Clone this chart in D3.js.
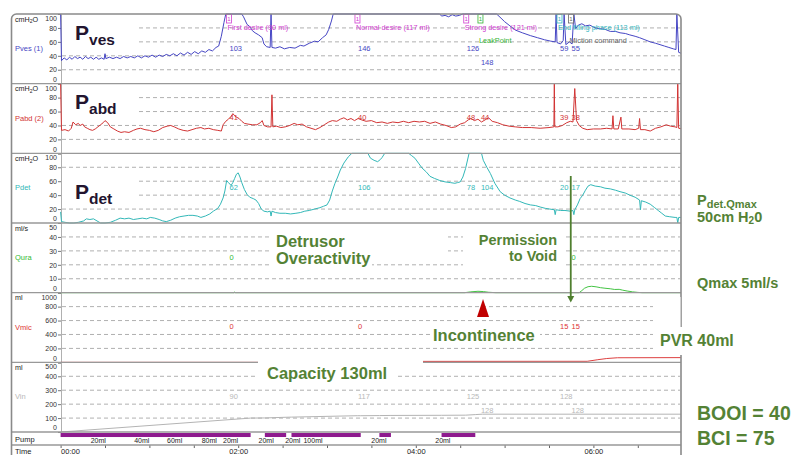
<!DOCTYPE html>
<html>
<head>
<meta charset="utf-8">
<script src="https://cdn.jsdelivr.net/npm/d3@7"></script>
<style>
body { margin: 0; background: #fff; }
svg { display: block; font-family: "Liberation Sans", Arial, sans-serif; }
</style>
</head>
<body>
<div id="chart"></div>
<script>
// channels, top to bottom
var channels = ["Pves (1)", "Pabd (2)", "Pdet", "Qura", "Vmic", "Vin"];
var units = ["cmH2O", "cmH2O", "cmH2O", "ml/s", "ml", "ml"];
var pressTicks = [0, 20, 40, 60, 80, 100];
var flowTicks = [0, 10, 20, 30, 40, 50];
var vmicTicks = [0, 200, 400, 600, 800, 1000];
var vinTicks = [0, 100, 200, 300, 400, 500];

// traces, [minutes, value]
var pvesData = [[0,100],[0.01,33],[0.04,37],[0.07,34],[0.10,38],[0.13,35],[0.16,39],[0.19,36],[0.22,38],[0.25,35],[0.28,39],[0.31,36],[0.34,38],[0.37,35],[0.40,38],[0.43,35],[0.46,37],[0.49,35],[0.50,43],[0.51,36],[0.55,38],[0.59,36],[0.63,38],[0.67,36],[0.71,39],[0.75,37],[0.79,39],[0.83,37],[0.87,40],[0.91,37],[0.95,40],[0.99,38],[1.03,41],[1.07,38],[1.11,41],[1.15,39],[1.19,42],[1.23,40],[1.27,43],[1.31,40],[1.35,44],[1.39,41],[1.43,45],[1.47,42],[1.51,46],[1.55,43],[1.59,47],[1.63,45],[1.67,49],[1.71,47],[1.75,52],[1.78,54],[1.81,68],[1.84,88],[1.86,104],[2.04,104],[2.06,96],[2.10,85],[2.13,82],[2.16,76],[2.19,73],[2.23,70],[2.27,66],[2.29,57],[2.32,53],[2.36,52],[2.37,104],[2.38,52],[2.42,51],[2.47,53],[2.52,50],[2.58,52],[2.64,51],[2.70,55],[2.74,54],[2.80,58],[2.86,61],[2.90,60],[2.95,66],[2.99,70],[3.02,78],[3.05,90],[3.07,104],[4.27,104],[4.29,97],[4.33,98],[4.37,96],[4.41,99],[4.45,97],[4.49,98],[4.53,100],[4.55,104],[4.91,104],[4.96,94],[5.00,89],[5.06,83],[5.12,77],[5.20,73],[5.29,69],[5.37,66],[5.45,63],[5.52,61],[5.57,60],[5.58,104],[5.59,59],[5.63,57],[5.66,62],[5.67,104],[5.69,56],[5.73,60],[5.76,57],[5.78,104],[5.80,79],[5.83,84],[5.87,86],[5.91,83],[5.96,84],[6.02,80],[6.07,79],[6.13,78],[6.19,75],[6.25,75],[6.30,73],[6.36,72],[6.41,70],[6.47,68],[6.52,66],[6.58,63],[6.64,60],[6.70,58],[6.75,56],[6.80,54],[6.85,52],[6.90,50],[6.93,49],[6.94,104],[6.96,45],[7.00,43]];
var pabdData = [[0,100],[0.01,33],[0.05,34],[0.09,32],[0.12,36],[0.14,45],[0.17,41],[0.20,43],[0.22,40],[0.25,42],[0.27,38],[0.30,36],[0.33,34],[0.36,33],[0.39,35],[0.42,38],[0.45,41],[0.48,44],[0.50,47],[0.53,44],[0.56,38],[0.60,35],[0.64,32],[0.68,30],[0.72,31],[0.77,30],[0.82,33],[0.86,35],[0.90,36],[0.95,34],[1.00,33],[1.05,31],[1.10,33],[1.15,37],[1.20,39],[1.24,40],[1.28,38],[1.33,35],[1.38,33],[1.43,32],[1.48,34],[1.53,36],[1.58,37],[1.62,35],[1.67,36],[1.72,34],[1.77,33],[1.81,32],[1.83,41],[1.86,46],[1.89,49],[1.92,53],[1.94,57],[1.96,54],[1.98,52],[2.01,50],[2.04,46],[2.07,43],[2.11,42],[2.16,41],[2.21,41],[2.25,44],[2.27,47],[2.29,40],[2.33,38],[2.37,38],[2.38,84],[2.39,38],[2.43,39],[2.48,37],[2.53,38],[2.58,40],[2.63,43],[2.67,41],[2.72,42],[2.77,38],[2.82,36],[2.87,34],[2.92,37],[2.97,41],[3.02,45],[3.06,47],[3.11,46],[3.15,49],[3.19,51],[3.23,48],[3.27,50],[3.31,47],[3.35,50],[3.39,48],[3.44,46],[3.50,47],[3.56,44],[3.62,45],[3.68,43],[3.74,45],[3.80,44],[3.86,46],[3.92,44],[3.98,46],[4.04,45],[4.10,46],[4.16,43],[4.22,45],[4.28,42],[4.34,40],[4.40,37],[4.45,38],[4.50,42],[4.55,44],[4.59,48],[4.62,50],[4.66,47],[4.70,49],[4.74,45],[4.78,48],[4.82,51],[4.86,46],[4.92,44],[4.98,41],[5.05,39],[5.12,38],[5.20,37],[5.30,37],[5.40,36],[5.50,37],[5.555,38],[5.56,100],[5.565,38],[5.60,38],[5.65,40],[5.70,44],[5.74,46],[5.77,45],[5.79,93],[5.81,47],[5.84,40],[5.88,36],[5.93,34],[6.00,35],[6.08,35],[6.15,36],[6.21,35],[6.22,54],[6.23,35],[6.28,35],[6.31,52],[6.32,35],[6.40,35],[6.47,34],[6.51,36],[6.52,50],[6.53,34],[6.58,34],[6.64,32],[6.70,36],[6.76,38],[6.82,41],[6.87,39],[6.92,38],[6.94,37],[6.95,100],[6.96,36],[7.00,35]];
var pdetData = [[0,16],[0.01,2],[0.05,1],[0.10,0],[0.15,0],[0.20,1],[0.26,3],[0.29,6],[0.33,5],[0.37,6],[0.41,3],[0.45,0],[0.50,0],[0.56,1],[0.62,4],[0.67,7],[0.72,6],[0.77,7],[0.82,5],[0.87,6],[0.92,7],[0.97,6],[1.01,8],[1.06,7],[1.11,5],[1.15,3],[1.19,2],[1.24,4],[1.29,7],[1.34,9],[1.39,10],[1.44,11],[1.49,11],[1.54,10],[1.58,8],[1.63,10],[1.68,13],[1.72,17],[1.77,21],[1.80,27],[1.83,36],[1.85,46],[1.87,61],[1.89,58],[1.92,54],[1.94,58],[1.96,64],[1.98,70],[2.00,72],[2.02,66],[2.04,58],[2.07,48],[2.10,41],[2.13,37],[2.17,35],[2.20,33],[2.23,28],[2.26,20],[2.29,17],[2.33,16],[2.36,17],[2.37,10],[2.38,17],[2.42,15],[2.47,14],[2.53,14],[2.59,13],[2.65,14],[2.70,15],[2.75,17],[2.80,18],[2.86,20],[2.92,22],[2.96,24],[3.00,26],[3.03,33],[3.06,46],[3.09,57],[3.12,66],[3.15,76],[3.19,86],[3.24,95],[3.28,104],[3.46,104],[3.49,93],[3.53,90],[3.57,88],[3.60,91],[3.62,94],[3.65,104],[3.92,104],[3.95,97],[3.99,93],[4.03,86],[4.07,79],[4.12,73],[4.16,67],[4.21,64],[4.27,61],[4.33,59],[4.39,58],[4.44,57],[4.47,58],[4.50,59],[4.53,66],[4.56,78],[4.60,104],[4.74,104],[4.76,90],[4.80,80],[4.84,71],[4.89,57],[4.95,45],[5.00,40],[5.06,36],[5.12,33],[5.17,31],[5.23,28],[5.29,26],[5.35,25],[5.40,23],[5.46,21],[5.51,20],[5.56,19],[5.57,12],[5.58,19],[5.63,18],[5.68,18],[5.74,17],[5.77,18],[5.78,12],[5.79,19],[5.82,26],[5.85,35],[5.88,40],[5.91,47],[5.94,53],[5.97,55],[6.02,53],[6.08,52],[6.13,50],[6.19,49],[6.25,47],[6.30,45],[6.36,43],[6.41,40],[6.47,37],[6.52,33],[6.53,19],[6.54,32],[6.59,30],[6.64,27],[6.69,22],[6.73,18],[6.77,14],[6.81,10],[6.86,9],[6.92,8],[6.94,8],[6.95,0],[6.96,8],[7.00,8]];
var quraData = [[0,0],[1.95,0],[1.96,0.4],[1.97,0],[4.55,0],[4.62,0.6],[4.70,1.0],[4.76,0.8],[4.82,0.3],[4.90,0],[5.84,0],[5.87,1.5],[5.90,3.2],[5.94,4.3],[5.98,4.6],[6.03,4.2],[6.08,3.6],[6.13,3.2],[6.19,2.8],[6.24,2.3],[6.29,2.4],[6.33,1.8],[6.38,1.2],[6.44,0.6],[6.50,0.2],[6.55,0],[7,0]];
var vmicData = [[0,0],[3.9,0],[4.05,14],[5.93,15],[6.05,38],[6.15,55],[6.27,66],[7,68]];
var vinData = [[0,0],[2.14,100],[2.30,101],[2.54,106],[2.60,107],[3.34,117],[3.38,117],[3.59,118],[3.72,119],[4.29,120],[4.56,121],[4.67,125],[4.75,128],[7,128]];

// events
var eventTimes = [1.868, 3.315, 4.54, 4.70, 5.59, 5.72];
var eventNames = ["First desire (90 ml)", "Normal desire (117 ml)", "Strong desire (121 ml)", "LeakPoint", "End filling phase (113 ml)", "Miction command"];
var eventRows = [0, 0, 0, 1, 0, 1];
var pvesVals = ["103", "146", "126", "148", "59", "55"];
var pabdVals = ["41", "40", "48", "44", "39", "38"];
var pdetVals = ["62", "106", "78", "104", "20", "17"];
var quraVals = ["0", null, null, null, null, "0"];
var vmicVals = ["0", "0", null, null, "15", "15"];
var vinVals = ["90", "117", "125", "128", "128", "128"];
var valRows = [[0,0,0,1,0,0],[0,0,0,0,0,0],[0,0,0,0,0,0],[0,0,0,0,0,0],[0,0,0,0,0,0],[0,0,0,1,0,1]];

// pump and time
var pumpBars = [[0.0, 2.14], [2.30, 2.54], [2.60, 3.38], [3.59, 3.72], [4.29, 4.67]];
var pumpLabelTimes = [0.51, 1.00, 1.37, 1.76, 2.00, 2.40, 2.70, 2.95, 3.67, 4.39];
var pumpLabels = ["20ml", "40ml", "60ml", "80ml", "20ml", "20ml", "20ml", "100ml", "20ml", "20ml"];
var timeTickValues = [0, 2, 4, 6];
var timeTickLabels = ["00:00", "02:00", "04:00", "06:00"];
var minorTickValues = [0.5, 1, 1.5, 2.5, 3, 3.5, 4.5, 5, 5.5, 6.5];
var voidTime = 5.745;
var leakArrowTime = 4.757;

var allData = [pvesData, pabdData, pdetData, quraData, vmicData, vinData];
var allVals = [pvesVals, pabdVals, pdetVals, quraVals, vmicVals, vinVals];
var allTicks = [pressTicks, pressTicks, pressTicks, flowTicks, vmicTicks, vinTicks];
var traceColors = ["#4646c4", "#d23434", "#33b8b8", "#44c444", "#dd4040", "#b4b4b4"];
var labelColors = ["#4646c4", "#d23434", "#33b8b8", "#33bb33", "#dd3333", "#b8b8b8"];
var eventColors = ["#d040d0", "#d040d0", "#d040d0", "#33b433", "#33b8c0", "#666666"];

var width = 803, height = 455;
var frameTop = 14, panelH = 69.67;
var green = "#548235";

var x = d3.scaleLinear().domain([0, 7]).range([60.6, 682.2]);

var svg = d3.select('#chart').append('svg')
    .attr('width', width)
    .attr('height', height);

svg.append('defs').append('clipPath').attr('id', 'plotclip')
    .append('rect').attr('x', 60).attr('y', 0).attr('width', 621).attr('height', 455);

var scales = [];

channels.forEach(function(name, i) {
    var top = frameTop + i * panelH;
    var bottom = top + panelH;
    var ticks = allTicks[i];
    var max = ticks[ticks.length - 1];
    var y = d3.scaleLinear().domain([0, max]).range([bottom, top]).clamp(true);
    scales.push(y);

    // gridlines
    svg.append('g').selectAll('line')
        .data(ticks.slice(1, -1))
        .enter().append('line')
        .attr('x1', 62).attr('x2', 680)
        .attr('y1', function(d) { return y(d); })
        .attr('y2', function(d) { return y(d); })
        .attr('stroke', '#9c9c9c')
        .attr('stroke-width', 0.8)
        .attr('stroke-dasharray', '4,3');

    // y axis
    var ax = svg.append('g')
        .attr('transform', 'translate(61,0)')
        .call(d3.axisLeft(y).tickValues(ticks).tickSize(3).tickPadding(1)
            .tickFormat(d3.format('d')))
        .attr('font-family', null)
        .attr('font-size', 7);
    ax.select('.domain').attr('stroke', '#b0b0b0');
    ax.selectAll('.tick line').attr('stroke', '#777');
    ax.selectAll('.tick text')
        .attr('fill', '#333')
        .attr('transform', function(d) {
            if (d === max) return 'translate(0,4.3)';
            if (d === 0) return 'translate(0,-4.3)';
            return null;
        });

    // unit label
    var u = svg.append('text').attr('x', 15).attr('y', top + 7.5)
        .attr('font-size', 7.2).attr('fill', '#222');
    if (units[i] === 'cmH2O') {
        u.append('tspan').text('cmH');
        u.append('tspan').attr('font-size', 5).attr('dy', 1.8).text('2');
        u.append('tspan').attr('dy', -1.8).text('O');
    } else {
        u.text(units[i]);
    }

    // channel name
    svg.append('text').attr('x', 15).attr('y', top + 37)
        .attr('font-size', 7.5)
        .attr('fill', labelColors[i])
        .text(name);
});

// white boxes behind the big P labels
[[62, 20, 75, 30], [62, 89, 75, 28], [62, 172, 75, 32]].forEach(function(b) {
    svg.append('rect').attr('x', b[0]).attr('y', b[1]).attr('width', b[2]).attr('height', b[3]).attr('fill', '#fff');
});

// traces
var plot = svg.append('g').attr('clip-path', 'url(#plotclip)');
allData.forEach(function(data, i) {
    var y = scales[i];
    var line = d3.line()
        .x(function(d) { return x(d[0]); })
        .y(function(d) { return y(d[1]); });
    plot.append('path')
        .datum(data)
        .attr('d', line)
        .attr('fill', 'none')
        .attr('stroke', traceColors[i])
        .attr('stroke-width', 1);
});

// value labels at events
allVals.forEach(function(vals, i) {
    var top = frameTop + i * panelH;
    vals.forEach(function(v, k) {
        if (v === null) return;
        svg.append('text')
            .attr('x', x(eventTimes[k]) + 3)
            .attr('y', top + (valRows[i][k] ? 48.5 : 34) + 2.6)
            .attr('font-size', 7.5)
            .attr('fill', labelColors[i])
            .text(v);
    });
});

// event markers
eventTimes.forEach(function(t, k) {
    var ex = x(t);
    svg.append('rect')
        .attr('x', ex).attr('y', 14.5)
        .attr('width', 5).attr('height', 8.5)
        .attr('fill', '#fff')
        .attr('stroke', eventColors[k])
        .attr('stroke-width', 0.8);
    svg.append('text')
        .attr('x', ex + 2.5).attr('y', 21)
        .attr('text-anchor', 'middle')
        .attr('font-size', 6)
        .attr('fill', eventColors[k])
        .text('1');
    svg.append('text')
        .attr('x', ex + 1).attr('y', eventRows[k] ? 43 : 30)
        .attr('font-size', 7.3)
        .attr('fill', eventColors[k])
        .text(eventNames[k]);
});

// pump row
var pumpTop = frameTop + 6 * panelH;
svg.append('g').selectAll('rect')
    .data(pumpBars)
    .enter().append('rect')
    .attr('x', function(d) { return x(d[0]); })
    .attr('width', function(d) { return x(d[1]) - x(d[0]); })
    .attr('y', pumpTop + 1)
    .attr('height', 4)
    .attr('fill', '#8e1a8e');

svg.append('g').selectAll('text')
    .data(pumpLabels)
    .enter().append('text')
    .attr('x', function(d, k) { return x(pumpLabelTimes[k]); })
    .attr('y', pumpTop + 11.3)
    .attr('text-anchor', 'end')
    .attr('font-size', 7)
    .attr('fill', '#222')
    .text(function(d) { return d; });

svg.append('text').attr('x', 15).attr('y', pumpTop + 10).attr('font-size', 7.5).attr('fill', '#222').text('Pump');
svg.append('text').attr('x', 15).attr('y', pumpTop + 22).attr('font-size', 7.5).attr('fill', '#222').text('Time');

// time axis
var timeTop = pumpTop + 13;
var tax = svg.append('g')
    .attr('transform', 'translate(0,' + timeTop + ')')
    .call(d3.axisBottom(x).tickValues(timeTickValues).tickSize(3).tickPadding(1)
        .tickFormat(function(d, k) { return timeTickLabels[k]; }))
    .attr('font-family', null)
    .attr('font-size', 7.5);
tax.select('.domain').remove();
tax.selectAll('.tick line').attr('stroke', '#666');
tax.selectAll('.tick text').attr('fill', '#222')
    .attr('text-anchor', function(d) { return d === 0 ? 'start' : 'middle'; });

var mtax = svg.append('g')
    .attr('transform', 'translate(0,' + timeTop + ')')
    .call(d3.axisBottom(x).tickValues(minorTickValues).tickSize(3).tickFormat(''));
mtax.select('.domain').remove();
mtax.selectAll('.tick line').attr('stroke', '#666');

// panel separators and frame
var seps = [1, 2, 3, 4, 5, 6].map(function(k) { return frameTop + k * panelH; }).concat([timeTop]);
svg.append('g').selectAll('line')
    .data(seps)
    .enter().append('line')
    .attr('x1', 11.5).attr('x2', 681)
    .attr('y1', function(d) { return d; })
    .attr('y2', function(d) { return d; })
    .attr('stroke', '#999')
    .attr('stroke-width', 1.3);

svg.append('rect')
    .attr('x', 11.5).attr('y', 14)
    .attr('width', 669.5).attr('height', 470)
    .attr('rx', 5)
    .attr('fill', 'none')
    .attr('stroke', '#8a8a8a')
    .attr('stroke-width', 1.6);

// overlay text boxes
[[270, 231, 178, 25], [270, 256, 102, 13], [463, 230, 103, 40],
 [430, 325, 110, 19], [653, 297, 27.5, 30], [653, 327, 92, 28],
 [258, 356, 165, 10], [258, 366, 137, 20]].forEach(function(b) {
    svg.append('rect').attr('x', b[0]).attr('y', b[1]).attr('width', b[2]).attr('height', b[3]).attr('fill', '#fff');
});

// big P labels
[["ves", 39.5], ["abd", 108.5], ["det", 199]].forEach(function(p) {
    var t = svg.append('text').attr('x', 75).attr('y', p[1])
        .attr('font-weight', 'bold').attr('fill', '#22142f');
    t.append('tspan').attr('font-size', 21).text('P');
    t.append('tspan').attr('font-size', 15.5).attr('dy', 5).text(p[0]);
});

// green annotations
function note(tx, ty, size, str, anchor) {
    return svg.append('text').attr('x', tx).attr('y', ty)
        .attr('font-size', size).attr('font-weight', 'bold')
        .attr('fill', green)
        .attr('text-anchor', anchor || 'start')
        .text(str);
}
note(276, 246.5, 16.5, 'Detrusor');
note(276, 264, 16.5, 'Overactivity');
note(557, 245, 14.5, 'Permission', 'end');
note(557, 260.5, 14.5, 'to Void', 'end');
note(433, 340.5, 16.5, 'Incontinence');
note(660, 345.5, 16, 'PVR 40ml');
note(267, 378.5, 16.5, 'Capacity 130ml');
note(697, 288, 14.5, 'Qmax 5ml/s');
note(697, 419.5, 19.5, 'BOOI = 40');
note(697, 445, 19.5, 'BCI = 75');

var pq = svg.append('text').attr('x', 697).attr('y', 205)
    .attr('font-weight', 'bold').attr('fill', green);
pq.append('tspan').attr('font-size', 14.5).text('P');
pq.append('tspan').attr('font-size', 11).attr('dy', 3).text('det.Qmax');
var cm = svg.append('text').attr('x', 697).attr('y', 221.5)
    .attr('font-weight', 'bold').attr('fill', green).attr('font-size', 14.5);
cm.append('tspan').text('50cm H');
cm.append('tspan').attr('font-size', 10).attr('dy', 2).text('2');
cm.append('tspan').attr('dy', -2).text('0');

// permission-to-void arrow
var vx = x(voidTime);
svg.append('line')
    .attr('x1', vx).attr('x2', vx)
    .attr('y1', 176).attr('y2', 298)
    .attr('stroke', '#4f7f2f').attr('stroke-width', 1.8);
svg.append('path')
    .attr('d', 'M' + (vx - 3.5) + ',296 L' + (vx + 3.5) + ',296 L' + vx + ',302.5 Z')
    .attr('fill', '#4f7f2f');

// leak arrow
var lx = x(leakArrowTime);
svg.append('path')
    .attr('d', 'M' + (lx - 6) + ',317 L' + (lx + 6) + ',317 L' + lx + ',299 Z')
    .attr('fill', '#c00000');
</script>
</body>
</html>
